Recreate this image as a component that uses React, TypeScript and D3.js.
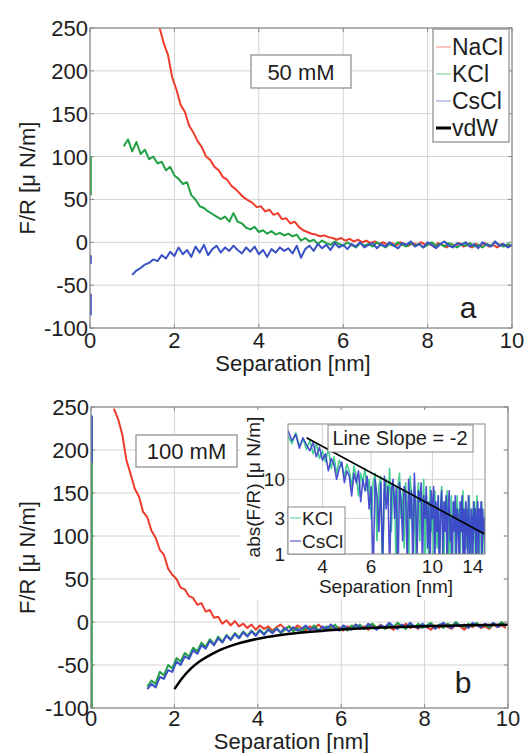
import React from 'react';
import * as d3 from 'd3';

// ---------- data ----------
const STEP = 0.1; // separation sampling [nm]
const xTicks = [0, 2, 4, 6, 8, 10];
const yTicks = [-100, -50, 0, 50, 100, 150, 200, 250];
const insetXTicks = [4, 6, 10, 14];
const insetYTicks = [1, 3, 10];

// Panel a, 50 mM
const nacl50Start = 1.65;
const nacl50 = [250, 232, 218, 192, 178, 160, 152, 136, 128, 118, 111, 100, 96, 88, 84, 76, 73, 66, 62, 57, 52, 49, 46, 41, 42, 36, 38, 32, 34, 27, 28, 22, 24, 18, 14, 12, 10, 9, 7, 8, 6, 5, 3, 5, 2, 4, 1, 3, 0, 2, -1, 1, -2, 0, -3, -1, -4, 0, -2, -4, -1, -3, 0, -3, -2, -5, -1, -3, -6, -2, -4, -1, -5, -3, -6, -2, -4, -1, -5, -3, -6, -2, -4, -5];
const kcl50Start = 0.8;
const kcl50 = [112, 120, 106, 117, 103, 108, 97, 100, 92, 94, 84, 88, 78, 74, 68, 70, 55, 50, 42, 40, 36, 33, 30, 27, 30, 24, 34, 24, 22, 17, 15, 18, 12, 14, 10, 13, 9, 11, 8, 10, 7, 9, 2, 5, 1, 3, -2, 2, -1, -3, 1, -2, -4, 0, -3, -6, -1, -4, -2, -5, 0, -3, -6, -2, -4, 0, -3, -5, -1, -4, -2, -6, -3, 0, -4, -2, -5, -1, -3, -6, -2, -4, -1, -5, -3, -6, -2, -4, 0, -3, -5, -2, -4];
const cscl50Start = 1.0;
const cscl50 = [-38, -33, -30, -26, -24, -20, -22, -15, -19, -11, -16, -6, -14, -9, -17, -5, -12, -3, -15, -8, -4, -12, -6, -10, -4, -9, -13, -6, -11, -5, -14, -9, -17, -8, -12, -6, -10, -7, -13, -4, -18, -8, -4, -10, -2, -7, -3, -9, -1, -6, -3, -8, -2, -5, 0, -6, -3, -1, -7, -2, -5, 0, -4, -7, -1, -3, 1, -5, -2, -6, 0, -3, -7, -2, 1, -4, -6, -1, -3, 0, -5, -2, -7, 0, -3, -5, 1, -4, -2, -6, -3];
const kcl50Wall = [100, 55];
const cscl50WallA = [-15, -25];
const cscl50WallB = [-60, -85];

// Panel b, 100 mM
const nacl100Start = 0.55;
const nacl100 = [248, 236, 218, 188, 172, 155, 146, 128, 122, 106, 98, 84, 78, 62, 55, 50, 40, 38, 30, 28, 20, 22, 12, 14, 5, 6, -2, 2, -4, 1, -5, -2, -7, -3, -9, -4, -8, -5, -10, -6, -3, -8, -5, -9, -4, -7, -10, -5, -8, -3, -7, -9, -4, -8, -6, -10, -5, -7, -3, -8, -5, -9, -4, -7, -3, -8, -5, -9, -4, -6, -2, -7, -5, -8, -3, -6, -9, -4, -7, -2, -6, -8, -3, -5, -9, -4, -6, -2, -7, -5, -8, -3, -6, -4, -7];
const kcl100Start = 1.35;
const kcl100 = [-75, -68, -72, -58, -62, -50, -54, -42, -46, -36, -40, -30, -34, -24, -29, -20, -26, -17, -23, -15, -20, -13, -18, -11, -16, -10, -15, -9, -14, -8, -12, -7, -13, -9, -5, -11, -7, -12, -6, -10, -4, -9, -11, -5, -8, -3, -9, -6, -10, -4, -7, -3, -8, -5, -2, -7, -4, -8, -3, -6, -1, -5, -8, -3, -6, -2, -7, -4, -1, -6, -3, -7, -2, -5, 0, -4, -6, -2, -5, -1, -6, -3, -7, -2, -4, 0, -5];
const cscl100Start = 1.35;
const cscl100 = [-78, -72, -76, -64, -66, -56, -58, -46, -50, -40, -43, -33, -37, -27, -31, -22, -27, -19, -24, -16, -21, -14, -19, -12, -17, -11, -16, -10, -15, -9, -13, -8, -12, -7, -11, -6, -10, -8, -4, -9, -7, -11, -5, -8, -3, -7, -10, -4, -7, -9, -3, -6, -8, -2, -6, -9, -4, -6, -1, -5, -8, -3, -6, -1, -5, -7, -2, -6, -3, -8, -4, -1, -5, -7, -2, -5, -3, -7, -1, -4, -6, -2, -5, -1, -6, -3, -4];
const kcl100Wall = [238, -100];
const cscl100Wall = [240, 185];
const vdwX = [2, 2.2, 2.4, 2.6, 2.8, 3, 3.5, 4, 4.5, 5, 6, 7, 8, 9, 10];
const vdwY = [-78, -64.5, -54, -46, -40, -34.7, -25.5, -19.5, -15.4, -12.5, -8.7, -6.4, -4.9, -3.9, -3.1];

// Inset: abs(F/R), 100 mM, log-log
const insetStart = 3.0;
const kclInset = [38, 30, 42, 28, 35, 25, 33, 22, 30, 19,
  24, 17, 26, 14, 20, 12, 18, 15, 11, 16,
  13, 8, 15, 11, 6, 12, 9, 14, 7, 10,
  3, 9, 12, 1.5, 8, 11, 0.6, 7, 10, 5,
  14, 2, 9, 6, 0.4, 8, 12, 3, 7, 1.2,
  9, 4, 0.5, 11, 6, 2, 8, 0.7, 5, 9,
  1.5, 7, 3, 10, 0.5, 6, 4, 0.8, 8, 2,
  5, 0.6, 7, 3, 1.2, 6, 0.4, 4, 8, 2,
  0.5, 5, 3, 7, 1, 4, 0.6, 6, 2, 3,
  5, 0.7, 3, 6, 1.5, 4, 0.5, 5, 2, 7,
  0.8, 3, 5, 1.2, 4, 0.5, 6, 2, 3, 0.6,
  4, 1.5, 5, 0.7, 3, 6, 1, 3, 0.5, 4,
  2, 5, 0.8, 3, 1.5, 4];
const csclInset = [45, 33, 40, 26, 36, 29, 24, 31, 20, 27,
  18, 22, 13, 19, 16, 10, 14, 17, 9, 13,
  11, 6, 12, 9, 13, 5, 10, 7, 11, 4,
  8, 0.5, 10, 6, 2, 9, 0.7, 11, 4, 8,
  0.6, 7, 10, 3, 8, 0.4, 9, 5, 1.5, 8,
  6, 0.8, 10, 3, 7, 0.5, 12, 4, 1, 7,
  5, 9, 0.6, 6, 3, 8, 1.2, 5, 0.5, 7,
  3, 8, 0.8, 5, 2, 6, 0.5, 4, 7, 1,
  5, 2, 6, 0.6, 4, 7, 1.5, 3, 0.5, 5,
  2, 6, 0.8, 4, 3, 0.5, 5, 2, 6, 1,
  4, 0.6, 5, 3, 1, 6, 2, 0.5, 4, 3,
  0.7, 5, 2, 4, 0.5, 3, 5, 1, 4, 2,
  5, 0.6, 4, 2, 3, 1];
const slopeX = [3.5, 15.5];
const slopeY = [36, 1.84];

const legendLabels = ['NaCl', 'KCl', 'CsCl', 'vdW'];
const insetLegendLabels = ['KCl', 'CsCl'];

// ---------- style ----------
const FONT = 'Liberation Sans, Arial, Helvetica, sans-serif';
const TXT = '#1e1e1e';
const C = {
  nacl: '#ef3b2c',
  kcl: '#22a045',
  cscl: '#3a52c4',
  vdw: '#000000',
  kclInset: '#45cf93',
  csclInset: '#3b3dcc',
  grid: '#d4d4d4',
  frame: '#8a8a8a',
};

type P = [number, number];
const grid = (start: number, vals: number[]): P[] => vals.map((v, i) => [start + i * STEP, v]);
const wall = (vals: number[]): P[] => vals.map((v) => [0.02, v]);
const zip = (xs: number[], ys: number[]): P[] => xs.map((x, i) => [x, ys[i]]);

type Box = { x0: number; x1: number; y0: number; y1: number };
type Series = { data: P[]; color: string; width: number; curve?: boolean };

function Panel(props: {
  id: string;
  b: Box;
  series: Series[];
  conc: string;
  concBox: Box;
  letter: string;
  letterPos: P;
  tickOffset: number;
  labelOffset: number;
  children?: React.ReactNode;
}) {
  const { id, b, series, conc, concBox, letter, letterPos, tickOffset, labelOffset } = props;
  const x = d3.scaleLinear().domain([0, 10]).range([b.x0, b.x1]);
  const y = d3.scaleLinear().domain([-100, 250]).range([b.y1, b.y0]);
  const mk = (s: Series) =>
    (d3.line<P>().x((d) => x(d[0])).y((d) => y(d[1])).curve(s.curve ? d3.curveMonotoneX : d3.curveLinear))(s.data) || '';
  const midY = (b.y0 + b.y1) / 2;
  const midX = (b.x0 + b.x1) / 2;
  return (
    <g>
      <defs>
        <clipPath id={id}>
          <rect x={b.x0} y={b.y0} width={b.x1 - b.x0} height={b.y1 - b.y0} />
        </clipPath>
      </defs>
      <rect x={b.x0} y={b.y0} width={b.x1 - b.x0} height={b.y1 - b.y0} fill="#fff" />
      {xTicks.map((t) => (
        <line key={'gx' + t} x1={x(t)} x2={x(t)} y1={b.y0} y2={b.y1} stroke={C.grid} strokeWidth={1} />
      ))}
      {yTicks.map((t) => (
        <line key={'gy' + t} x1={b.x0} x2={b.x1} y1={y(t)} y2={y(t)} stroke={C.grid} strokeWidth={1} />
      ))}
      {xTicks.map((t) => (
        <g key={'tx' + t}>
          <line x1={x(t)} x2={x(t)} y1={b.y1} y2={b.y1 - 4} stroke={C.frame} />
          <line x1={x(t)} x2={x(t)} y1={b.y0} y2={b.y0 + 4} stroke={C.frame} />
        </g>
      ))}
      {yTicks.map((t) => (
        <g key={'ty' + t}>
          <line x1={b.x0} x2={b.x0 + 4} y1={y(t)} y2={y(t)} stroke={C.frame} />
          <line x1={b.x1} x2={b.x1 - 4} y1={y(t)} y2={y(t)} stroke={C.frame} />
        </g>
      ))}
      <g clipPath={`url(#${id})`}>
        {series.map((s, i) => (
          <path key={i} d={mk(s)} fill="none" stroke={s.color} strokeWidth={s.width} strokeLinejoin="round" />
        ))}
      </g>
      <rect x={b.x0} y={b.y0} width={b.x1 - b.x0} height={b.y1 - b.y0} fill="none" stroke={C.frame} strokeWidth={1.2} />
      {xTicks.map((t) => (
        <text key={'lx' + t} x={x(t)} y={b.y1 + tickOffset} textAnchor="middle" fontSize={22} fill={TXT}>
          {t}
        </text>
      ))}
      {yTicks.map((t) => (
        <text key={'ly' + t} x={b.x0 - 2} y={y(t) + 8} textAnchor="end" fontSize={22} fill={TXT}>
          {t}
        </text>
      ))}
      <text x={midX - 8} y={b.y1 + labelOffset} textAnchor="middle" fontSize={22} fill={TXT}>
        Separation [nm]
      </text>
      <text transform={`translate(35,${midY}) rotate(-90)`} textAnchor="middle" fontSize={22} fill={TXT}>
        F/R [μ N/m]
      </text>
      <rect x={concBox.x0} y={concBox.y0} width={concBox.x1 - concBox.x0} height={concBox.y1 - concBox.y0} fill="#fff" stroke={C.frame} strokeWidth={1.2} />
      <text x={(concBox.x0 + concBox.x1) / 2} y={(concBox.y0 + concBox.y1) / 2 + 8} textAnchor="middle" fontSize={22} fill={TXT}>
        {conc}
      </text>
      <text x={letterPos[0]} y={letterPos[1]} textAnchor="middle" fontSize={30} fill={TXT}>
        {letter}
      </text>
      {props.children}
    </g>
  );
}

function Legend() {
  const bx = { x0: 433, x1: 509, y0: 29, y1: 142 };
  const cols = [C.nacl, C.kcl, C.cscl, C.vdw];
  const ys = [47, 74, 101, 128];
  return (
    <g>
      <rect x={bx.x0} y={bx.y0} width={bx.x1 - bx.x0} height={bx.y1 - bx.y0} fill="#fff" stroke={C.frame} strokeWidth={1.2} />
      {legendLabels.map((l, i) => (
        <g key={l}>
          <line x1={436} x2={451} y1={ys[i]} y2={ys[i]} stroke={cols[i]} strokeWidth={i === 3 ? 3 : 1} opacity={i === 3 ? 1 : 0.6} />
          <text x={452} y={ys[i] + 8} fontSize={23} fill={TXT}>
            {l}
          </text>
        </g>
      ))}
    </g>
  );
}

function Inset() {
  const b = { x0: 288, x1: 485, y0: 424, y1: 554 };
  const x = d3.scaleLog().domain([3, 15.5]).range([b.x0, b.x1]);
  const y = d3.scaleLog().domain([1, 55]).range([b.y1, b.y0]);
  const line = d3.line<P>().x((d) => x(d[0])).y((d) => y(Math.max(d[1], 0.05)));
  const kcl = grid(insetStart, kclInset);
  const cscl = grid(insetStart, csclInset);
  const slope = zip(slopeX, slopeY);
  const lys = [518, 541];
  const lcols = [C.kclInset, C.csclInset];
  return (
    <g>
      <defs>
        <clipPath id="insetClip">
          <rect x={b.x0} y={b.y0} width={b.x1 - b.x0} height={b.y1 - b.y0} />
        </clipPath>
      </defs>
      <rect x={240} y={410} width={263} height={190} fill="#fff" />
      {insetXTicks.map((t) => (
        <line key={'gx' + t} x1={x(t)} x2={x(t)} y1={b.y0} y2={b.y1} stroke={C.grid} />
      ))}
      {insetYTicks.map((t) => (
        <line key={'gy' + t} x1={b.x0} x2={b.x1} y1={y(t)} y2={y(t)} stroke={C.grid} />
      ))}
      <g clipPath="url(#insetClip)">
        <path d={line(kcl) || ''} fill="none" stroke={C.kclInset} strokeWidth={1.6} strokeLinejoin="round" />
        <path d={line(cscl) || ''} fill="none" stroke={C.csclInset} strokeWidth={1.6} strokeLinejoin="round" opacity={0.9} />
        <path d={line(slope) || ''} fill="none" stroke="#000" strokeWidth={1.6} />
      </g>
      <rect x={b.x0} y={b.y0} width={b.x1 - b.x0} height={b.y1 - b.y0} fill="none" stroke={C.frame} strokeWidth={1} />
      {insetXTicks.map((t) => (
        <text key={'lx' + t} x={x(t)} y={b.y1 + 19} textAnchor="middle" fontSize={19} fill={TXT}>
          {t}
        </text>
      ))}
      {insetYTicks.map((t) => (
        <text key={'ly' + t} x={b.x0 - 3} y={y(t) + 7} textAnchor="end" fontSize={19} fill={TXT}>
          {t}
        </text>
      ))}
      <text x={386} y={593} textAnchor="middle" fontSize={19} fill={TXT}>
        Separation [nm]
      </text>
      <text transform={`translate(260,${(b.y0 + b.y1) / 2 - 2}) rotate(-90)`} textAnchor="middle" fontSize={19} fill={TXT}>
        abs(F/R) [μ N/m]
      </text>
      <rect x={328} y={425} width={145} height={27} fill="#fff" stroke={C.frame} strokeWidth={1} />
      <text x={400} y={445} textAnchor="middle" fontSize={20} fill={TXT}>
        Line Slope = -2
      </text>
      <rect x={288} y={507} width={57} height={47} fill="#fff" stroke={C.frame} strokeWidth={1} />
      {insetLegendLabels.map((l, i) => (
        <g key={l}>
          <line x1={290} x2={301} y1={lys[i]} y2={lys[i]} stroke={lcols[i]} strokeWidth={1} />
          <text x={302} y={lys[i] + 7} fontSize={19} fill={TXT}>
            {l}
          </text>
        </g>
      ))}
    </g>
  );
}

export default function App() {
  const seriesA: Series[] = [
    { data: grid(nacl50Start, nacl50), color: C.nacl, width: 2 },
    { data: grid(kcl50Start, kcl50), color: C.kcl, width: 2 },
    { data: wall(kcl50Wall), color: C.kcl, width: 2 },
    { data: grid(cscl50Start, cscl50), color: C.cscl, width: 2 },
    { data: wall(cscl50WallA), color: C.cscl, width: 2 },
    { data: wall(cscl50WallB), color: C.cscl, width: 2 },
  ];
  const seriesB: Series[] = [
    { data: grid(nacl100Start, nacl100), color: C.nacl, width: 2 },
    { data: grid(kcl100Start, kcl100), color: C.kcl, width: 2 },
    { data: wall(kcl100Wall), color: C.kcl, width: 2 },
    { data: grid(cscl100Start, cscl100), color: C.cscl, width: 2 },
    { data: wall(cscl100Wall), color: C.cscl, width: 2 },
    { data: zip(vdwX, vdwY), color: C.vdw, width: 2.5, curve: true },
  ];
  return (
    <svg
      width={527}
      height={753}
      viewBox="0 0 527 753"
      style={{ position: 'absolute', left: 0, top: 0, background: '#fff' }}
      fontFamily={FONT}
    >
      <rect x={0} y={0} width={527} height={753} fill="#fff" />
      <Panel
        id="clipA"
        b={{ x0: 90, x1: 512, y0: 28, y1: 328 }}
        series={seriesA}
        conc="50 mM"
        concBox={{ x0: 251, x1: 351, y0: 55, y1: 88 }}
        letter="a"
        letterPos={[468, 318]}
        tickOffset={20}
        labelOffset={43}
      >
        <Legend />
      </Panel>
      <Panel
        id="clipB"
        b={{ x0: 91, x1: 508, y0: 407, y1: 708 }}
        series={seriesB}
        conc="100 mM"
        concBox={{ x0: 136, x1: 237, y0: 435, y1: 467 }}
        letter="b"
        letterPos={[463, 693]}
        tickOffset={18}
        labelOffset={41}
      >
        <Inset />
      </Panel>
    </svg>
  );
}
